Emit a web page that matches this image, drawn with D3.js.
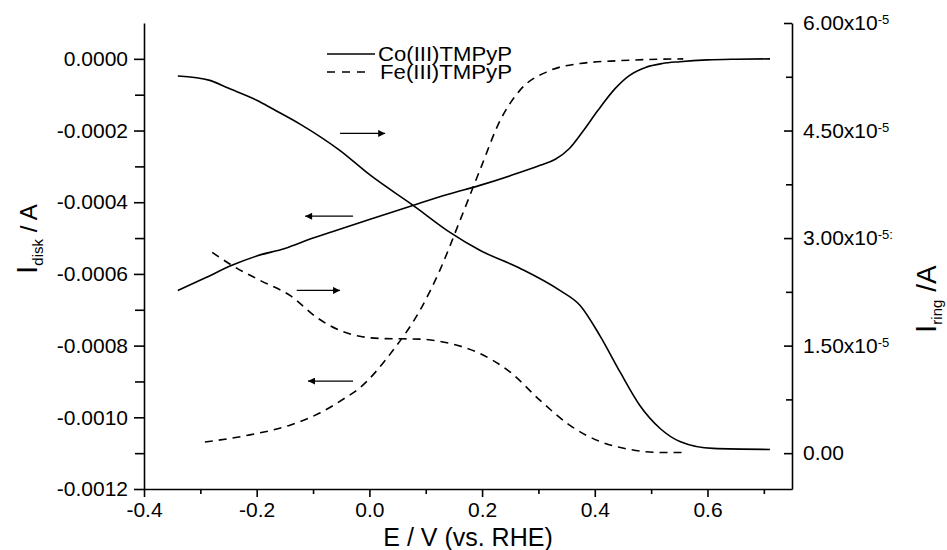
<!DOCTYPE html>
<html>
<head>
<meta charset="utf-8">
<script src="https://cdn.jsdelivr.net/npm/d3@7"></script>
<style>
  body { margin: 0; background: #fff; }
  svg text { font-family: "Liberation Sans", Arial, sans-serif; fill: #000; }
  .domain, .tick line { stroke: #000; stroke-width: 1.6; }
</style>
</head>
<body>
<div id="chart"></div>
<script>
// potentials (V vs RHE) and currents
var coDiskE = [-0.340, -0.290, -0.244, -0.200, -0.150, -0.100, -0.058, 0.000, 0.077, 0.140, 0.196, 0.250, 0.303, 0.330, 0.355, 0.380, 0.405, 0.436, 0.460, 0.490, 0.520, 0.551, 0.600, 0.650, 0.711];
var coDiskI = [-6.46e-4, -6.10e-4, -5.76e-4, -5.50e-4, -5.29e-4, -5.00e-4, -4.78e-4, -4.48e-4, -4.09e-4, -3.78e-4, -3.53e-4, -3.26e-4, -2.97e-4, -2.80e-4, -2.50e-4, -2.00e-4, -1.45e-4, -0.83e-4, -0.48e-4, -0.24e-4, -0.13e-4, -0.08e-4, -0.03e-4, -0.01e-4, 0];

var coRingE = [-0.340, -0.283, -0.253, -0.199, -0.171, -0.123, -0.052, 0.001, 0.077, 0.143, 0.196, 0.267, 0.338, 0.374, 0.409, 0.445, 0.480, 0.516, 0.551, 0.610, 0.711];
var coRingI = [5.26e-5, 5.20e-5, 5.10e-5, 4.92e-5, 4.80e-5, 4.59e-5, 4.22e-5, 3.88e-5, 3.46e-5, 3.08e-5, 2.83e-5, 2.58e-5, 2.27e-5, 2.06e-5, 1.64e-5, 1.13e-5, 0.665e-5, 0.344e-5, 0.163e-5, 0.066e-5, 0.052e-5];

var feDiskE = [-0.292, -0.212, -0.141, -0.088, -0.043, -0.022, 0.042, 0.090, 0.125, 0.161, 0.196, 0.232, 0.267, 0.320, 0.374, 0.445, 0.557];
var feDiskI = [-1.069e-3, -1.049e-3, -1.022e-3, -0.988e-3, -0.946e-3, -0.924e-3, -0.813e-3, -0.701e-3, -0.590e-3, -0.450e-3, -0.311e-3, -0.172e-3, -0.088e-3, -0.033e-3, -0.013e-3, -0.005e-3, 0];

var feRingE = [-0.279, -0.244, -0.194, -0.141, -0.093, -0.052, -0.017, 0.019, 0.090, 0.143, 0.196, 0.250, 0.303, 0.356, 0.409, 0.462, 0.516, 0.558];
var feRingI = [2.80e-5, 2.62e-5, 2.41e-5, 2.20e-5, 1.89e-5, 1.71e-5, 1.63e-5, 1.60e-5, 1.59e-5, 1.53e-5, 1.39e-5, 1.13e-5, 0.735e-5, 0.387e-5, 0.163e-5, 0.052e-5, 0.010e-5, 0.010e-5];

var xTicks = [-0.4, -0.2, 0.0, 0.2, 0.4, 0.6];
var xMinor = [-0.3, -0.1, 0.1, 0.3, 0.5, 0.7];
var leftTicks = [0, -0.0002, -0.0004, -0.0006, -0.0008, -0.0010, -0.0012];
var leftMinor = [-0.0001, -0.0003, -0.0005, -0.0007, -0.0009, -0.0011];
var rightTicks = [0, 1.5e-5, 3.0e-5, 4.5e-5, 6.0e-5];
var rightLabels = ["0.00", "1.50x10", "3.00x10", "4.50x10", "6.00x10"];
var rightExps = ["", "-5", "-5:", "-5", "-5"];
var rightMinor = [0.75e-5, 2.25e-5, 3.75e-5, 5.25e-5];

var legendNames = ["Co(III)TMPyP", "Fe(III)TMPyP"];

// arrows: [E start, E end, disk current level]
var arrows = [
  [-0.052, 0.028, -0.000208],
  [-0.029, -0.114, -0.000439],
  [-0.129, -0.052, -0.000646],
  [-0.029, -0.109, -0.000899]
];

var W = 947, H = 550;
var mLeft = 144, mRight = 792, mTop = 23, mBottom = 489;

var svg = d3.select("#chart").append("svg")
  .attr("width", W).attr("height", H);

svg.append("defs").append("marker")
  .attr("id", "head")
  .attr("viewBox", "0 0 10 10")
  .attr("refX", 10).attr("refY", 5)
  .attr("markerWidth", 9).attr("markerHeight", 7)
  .attr("markerUnits", "userSpaceOnUse")
  .attr("orient", "auto")
  .append("path").attr("d", "M0,0L10,5L0,10z").attr("fill", "#000");

var x = d3.scaleLinear().domain([-0.4, 0.75]).range([mLeft, mRight]);
var yL = d3.scaleLinear().domain([-0.0012, 0.0001]).range([mBottom, mTop]);
var yR = d3.scaleLinear().domain([-0.5e-5, 6.0e-5]).range([mBottom, mTop]);

// bottom axis
svg.append("g").attr("transform", "translate(0," + mBottom + ")")
  .call(d3.axisBottom(x).tickValues(xMinor).tickSize(5).tickFormat(""))
  .call(function(g) { g.select(".domain").remove(); });
svg.append("g").attr("transform", "translate(0," + mBottom + ")")
  .call(d3.axisBottom(x).tickValues(xTicks).tickSizeInner(8).tickSizeOuter(0).tickPadding(5)
    .tickFormat(function(d) { return d.toFixed(1); }))
  .call(function(g) { g.selectAll("text").style("font-size", "21px"); });

// left axis
svg.append("g").attr("transform", "translate(" + mLeft + ",0)")
  .call(d3.axisLeft(yL).tickValues(leftMinor).tickSize(9).tickFormat(""))
  .call(function(g) { g.select(".domain").remove(); });
svg.append("g").attr("transform", "translate(" + mLeft + ",0)")
  .call(d3.axisLeft(yL).tickValues(leftTicks).tickSizeInner(10).tickSizeOuter(0).tickPadding(6)
    .tickFormat(function(d) { return d.toFixed(4); }))
  .call(function(g) { g.selectAll("text").style("font-size", "21px"); });

// right axis, ticks pointing inward
svg.append("g").attr("transform", "translate(" + mRight + ",0)")
  .call(d3.axisRight(yR).tickValues(rightMinor).tickSize(-6).tickFormat(""))
  .call(function(g) { g.select(".domain").remove(); });
var gR = svg.append("g").attr("transform", "translate(" + mRight + ",0)")
  .call(d3.axisRight(yR).tickValues(rightTicks).tickSizeInner(-8).tickSizeOuter(0).tickPadding(11)
    .tickFormat(""));
gR.selectAll(".tick").each(function(d, i) {
  var t = d3.select(this).select("text").style("font-size", "21px");
  t.append("tspan").text(rightLabels[i]);
  if (rightExps[i]) t.append("tspan").attr("dy", "-0.45em").style("font-size", "13px").text(rightExps[i]);
});

// axis titles
svg.append("text")
  .attr("x", (mLeft + mRight) / 2).attr("y", 546)
  .attr("text-anchor", "middle").style("font-size", "25px")
  .text("E / V (vs. RHE)");

var tl = svg.append("text")
  .attr("transform", "translate(37,274) rotate(-90)")
  .style("font-size", "24px");
tl.append("tspan").style("font-size", "30px").text("I");
tl.append("tspan").attr("dy", 6).style("font-size", "15px").text("disk");
tl.append("tspan").attr("dy", -6).text(" / A");

var tr = svg.append("text")
  .attr("transform", "translate(936,333) rotate(-90)")
  .style("font-size", "28px");
tr.append("tspan").style("font-size", "30px").text("I");
tr.append("tspan").attr("dy", 6).style("font-size", "15px").text("ring");
tr.append("tspan").attr("dy", -6).text(" /A");

// curves
function drawCurve(es, is, y, dash) {
  var pts = es.map(function(e, i) { return [e, is[i]]; });
  svg.append("path")
    .datum(pts)
    .attr("fill", "none")
    .attr("stroke", "#000")
    .attr("stroke-width", 1.6)
    .attr("stroke-dasharray", dash ? "8,6" : null)
    .attr("d", d3.line()
      .x(function(d) { return x(d[0]); })
      .y(function(d) { return y(d[1]); })
      .curve(d3.curveMonotoneX));
}
drawCurve(coDiskE, coDiskI, yL, false);
drawCurve(coRingE, coRingI, yR, false);
drawCurve(feDiskE, feDiskI, yL, true);
drawCurve(feRingE, feRingI, yR, true);

// arrows
svg.selectAll(".arrow").data(arrows).enter().append("line")
  .attr("class", "arrow")
  .attr("x1", function(d) { return x(d[0]); })
  .attr("x2", function(d) { return x(d[1]); })
  .attr("y1", function(d) { return yL(d[2]); })
  .attr("y2", function(d) { return yL(d[2]); })
  .attr("stroke", "#000").attr("stroke-width", 1.3)
  .attr("marker-end", "url(#head)");

// legend
var lg = svg.append("g").attr("transform", "translate(327,54)");
legendNames.forEach(function(name, i) {
  lg.append("line")
    .attr("x1", 0).attr("x2", i ? 44 : 48)
    .attr("y1", i * 18).attr("y2", i * 18)
    .attr("stroke", "#000").attr("stroke-width", 1.6)
    .attr("stroke-dasharray", i ? "8,7" : null);
  lg.append("text")
    .attr("x", i ? 53 : 51).attr("y", i * 18 + 7)
    .attr("textLength", i ? 132 : 134)
    .attr("lengthAdjust", "spacingAndGlyphs")
    .style("font-size", "20px")
    .text(name);
});
</script>
</body>
</html>
